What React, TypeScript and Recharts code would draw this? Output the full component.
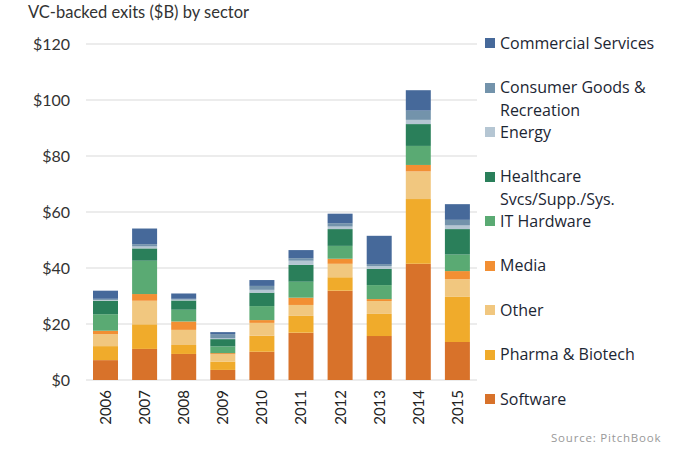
import { BarChart, Bar, XAxis, YAxis, CartesianGrid } from "recharts";

const years = ["2006", "2007", "2008", "2009", "2010", "2011", "2012", "2013", "2014", "2015"];

const software = [7.1, 11.1, 9.3, 3.6, 10.1, 16.9, 31.9, 15.7, 41.5, 13.6];
const pharma = [5.0, 8.8, 3.2, 3.0, 5.7, 6.0, 4.8, 7.9, 23.1, 16.1];
const other = [4.3, 8.4, 5.4, 2.6, 4.6, 3.9, 4.8, 4.6, 9.9, 6.3];
const media = [1.2, 2.4, 3.0, 0.4, 1.0, 2.6, 1.8, 0.7, 2.3, 2.9];
const itHardware = [5.9, 11.9, 4.2, 2.4, 5.0, 5.7, 4.6, 5.0, 6.8, 5.9];
const healthcare = [4.8, 4.4, 3.3, 2.6, 4.8, 6.0, 6.0, 5.8, 7.8, 9.1];
const energy = [0.3, 0.7, 0.3, 0.3, 1.0, 1.5, 0.9, 1.0, 1.5, 1.3];
const consumer = [0.4, 0.8, 0.3, 1.5, 1.4, 0.9, 1.2, 0.7, 3.3, 2.0];
const commercial = [2.9, 5.6, 1.9, 0.7, 2.1, 2.9, 3.4, 10.1, 7.3, 5.6];

const yTicks = [0, 20, 40, 60, 80, 100, 120];

// bottom of the stack first
const SERIES = [
  { key: "software", name: "Software", color: "#d8722a", values: software },
  { key: "pharma", name: "Pharma & Biotech", color: "#f0ab2b", values: pharma },
  { key: "other", name: "Other", color: "#f1c77f", values: other },
  { key: "media", name: "Media", color: "#f28f33", values: media },
  { key: "it", name: "IT Hardware", color: "#5aaa73", values: itHardware },
  { key: "health", name: "Healthcare Svcs/Supp./Sys.", lines: ["Healthcare", "Svcs/Supp./Sys."], color: "#2a7f5a", values: healthcare },
  { key: "energy", name: "Energy", color: "#b5c6d3", values: energy },
  { key: "consumer", name: "Consumer Goods & Recreation", lines: ["Consumer Goods &", "Recreation"], color: "#7393ab", values: consumer },
  { key: "commercial", name: "Commercial Services", color: "#46699a", values: commercial },
];

const data = years.map((year, i) => {
  const row: Record<string, string | number> = { year };
  SERIES.forEach((s) => {
    row[s.key] = s.values[i];
  });
  return row;
});

const FONT = "Lato, 'Open Sans', sans-serif";

function YearTick({ x, y, payload }: any) {
  return (
    <text
      transform={`translate(${x},${y}) rotate(-90)`}
      textAnchor="end"
      dy="0.36em"
      fontSize={15}
      fill="#222"
      fontFamily={FONT}
    >
      {payload.value}
    </text>
  );
}

function SectorLegend() {
  const items = [...SERIES].reverse();
  return (
    <div
      style={{
        position: "absolute",
        top: 32,
        left: 485,
        fontFamily: "'Open Sans', sans-serif",
        fontSize: 16,
        color: "#1c2633",
      }}
    >
      {items.map((s) => (
        <div key={s.key} style={{ height: 44.5, display: "flex", alignItems: "flex-start" }}>
          <span
            style={{
              display: "inline-block",
              width: 10,
              height: 10,
              background: s.color,
              marginTop: 6,
              marginRight: 5,
              flexShrink: 0,
            }}
          />
          <div style={{ lineHeight: "22.5px", marginTop: -0.5 }}>
            {(s.lines ?? [s.name]).map((l) => (
              <div key={l} style={{ whiteSpace: "nowrap" }}>{l}</div>
            ))}
          </div>
        </div>
      ))}
    </div>
  );
}

export default function App() {
  return (
    <div style={{ position: "fixed", top: 0, left: 0, width: 680, height: 450, background: "#fff" }}>
      <div
        style={{
          position: "absolute",
          top: 2,
          left: 28,
          fontFamily: FONT,
          fontSize: 16.5,
          color: "#333",
        }}
      >
        VC-backed exits ($B) by sector
      </div>
      <BarChart
        width={680}
        height={450}
        data={data}
        margin={{ top: 44, right: 203, bottom: 25, left: 0 }}
      >
        <CartesianGrid vertical={false} stroke="#d9d9d9" />
        <XAxis
          dataKey="year"
          height={45}
          axisLine={false}
          tickLine={false}
          interval={0}
          tick={<YearTick />}
          tickSize={0}
          tickMargin={10}
        />
        <YAxis
          width={86}
          domain={[0, 120]}
          ticks={yTicks}
          tickFormatter={(v: number) => `$${v}`}
          axisLine={false}
          tickLine={false}
          tickSize={0}
          tickMargin={16}
          tick={{ fontSize: 16, fill: "#333", fontFamily: FONT }}
        />
        {SERIES.map((s) => (
          <Bar
            key={s.key}
            dataKey={s.key}
            name={s.name}
            stackId="exits"
            fill={s.color}
            barSize={25}
            isAnimationActive={false}
          />
        ))}
      </BarChart>
      <SectorLegend />
      <div
        style={{
          position: "absolute",
          top: 430,
          left: 551,
          fontFamily: "'Open Sans', sans-serif",
          fontSize: 11.5,
          letterSpacing: 0.8,
          color: "#999",
        }}
      >
        Source: PitchBook
      </div>
    </div>
  );
}
